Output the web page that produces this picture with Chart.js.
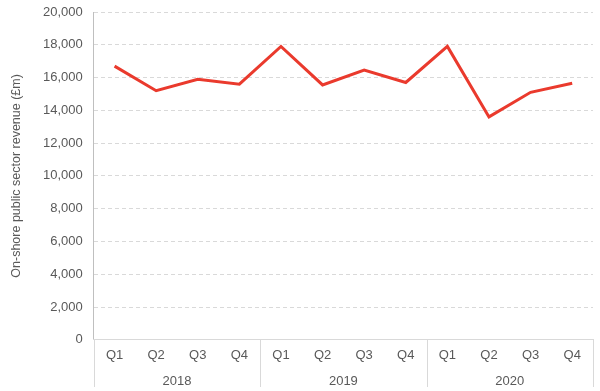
<!DOCTYPE html>
<html>
<head>
<meta charset="utf-8">
<script src="https://cdn.jsdelivr.net/npm/chart.js@4"></script>
<style>
  body { margin: 0; background: #fff; }
  #wrap { width: 600px; height: 391px; }
</style>
</head>
<body>
<div id="wrap"><canvas id="grafico"></canvas></div>
<script>
// dados
var trimestres = ['Q1', 'Q2', 'Q3', 'Q4', 'Q1', 'Q2', 'Q3', 'Q4', 'Q1', 'Q2', 'Q3', 'Q4']
var anos = ['2018', '2019', '2020']
var receita = [16700, 15200, 15900, 15600, 17900, 15550, 16450, 15700, 17900, 13600, 15100, 15650]

var cinza = '#595959'
var fonte = 'Arial, "Liberation Sans", sans-serif'

// linhas verticais separando os anos
var separadores = {
    id: 'separadores',
    afterDraw: function (chart) {
        var x = chart.scales.x
        var larg = x.getPixelForValue(1) - x.getPixelForValue(0)
        var ctx = chart.ctx
        ctx.save()
        ctx.strokeStyle = '#d9d9d9'
        ctx.lineWidth = 1
        for (var i = 0; i <= trimestres.length; i += 4) {
            var px = Math.round(x.getPixelForValue(0) - larg / 2 + i * larg) + 0.5
            ctx.beginPath()
            ctx.moveTo(px, chart.chartArea.bottom)
            ctx.lineTo(px, chart.height - 4)
            ctx.stroke()
        }
        ctx.restore()
    }
}

const ctx = document.getElementById('grafico');

new Chart(ctx, {
    type: 'line',
    data: {
        labels: trimestres,
        datasets: [{
            data: receita,
            borderColor: '#ea3a2d',
            borderWidth: 3,
            pointRadius: 0,
            tension: 0,
            fill: false
        }]
    },
    options: {
        responsive: true,
        maintainAspectRatio: false,
        animation: false,
        layout: {
            padding: { top: 12, right: 7, left: 5, bottom: 0 }
        },
        plugins: {
            legend: { display: false },
            tooltip: { enabled: false }
        },
        scales: {
            y: {
                min: 0,
                max: 20000,
                ticks: {
                    stepSize: 2000,
                    color: cinza,
                    padding: 3,
                    font: { family: fonte, size: 13 },
                    callback: function (v) { return v.toLocaleString('en-GB') }
                },
                grid: {
                    color: '#d9d9d9',
                    drawTicks: true,
                    tickLength: 8,
                    tickColor: 'rgba(0,0,0,0)'
                },
                border: { color: '#bfbfbf', dash: [4, 3], display: true },
                title: {
                    display: true,
                    text: 'On-shore public sector revenue (£m)',
                    color: cinza,
                    font: { family: fonte, size: 12.5 },
                    padding: { bottom: 16 }
                }
            },
            x: {
                offset: true,
                ticks: {
                    color: cinza,
                    padding: 8,
                    maxRotation: 0,
                    font: { family: fonte, size: 13 }
                },
                grid: { display: false, drawTicks: false },
                border: { color: '#d9d9d9' }
            },
            anos: {
                type: 'category',
                position: 'bottom',
                labels: anos,
                offset: true,
                ticks: {
                    color: cinza,
                    padding: 2,
                    font: { family: fonte, size: 13 }
                },
                grid: { display: false, drawTicks: false },
                border: { display: false }
            }
        }
    },
    plugins: [separadores]
});
</script>
</body>
</html>
